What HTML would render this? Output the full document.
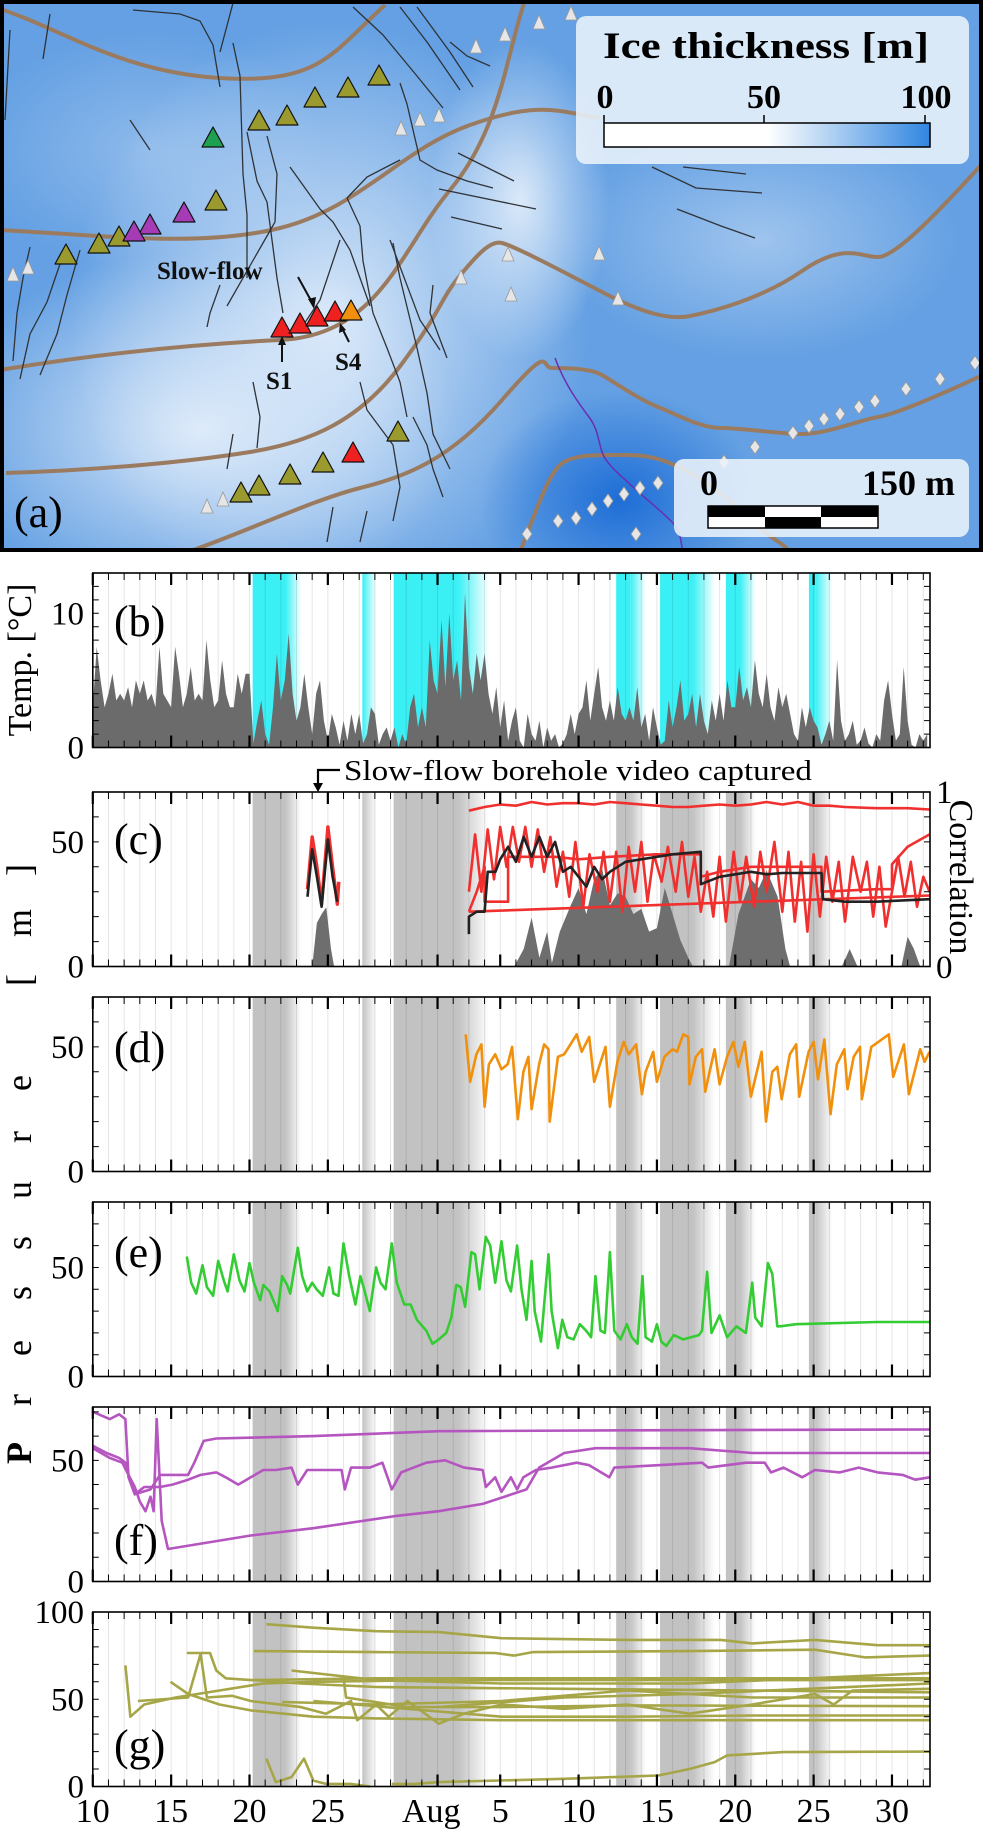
<!DOCTYPE html>
<html><head><meta charset="utf-8"><style>
html,body{margin:0;padding:0;background:#fff;}
svg{display:block;font-family:"Liberation Serif",serif;}
</style></head><body>
<svg id="fig" xmlns="http://www.w3.org/2000/svg" width="983" height="1830" viewBox="0 0 983 1830">
<defs>
<linearGradient id="gGray" x1="0" x2="1" y1="0" y2="0"><stop offset="0" stop-color="#c2c2c2"/><stop offset="1" stop-color="#c2c2c2" stop-opacity="0"/></linearGradient>
<linearGradient id="gCyan" x1="0" x2="1" y1="0" y2="0"><stop offset="0" stop-color="#3af0f4"/><stop offset="1" stop-color="#3af0f4" stop-opacity="0"/></linearGradient>
<linearGradient id="gBar" x1="0" x2="1" y1="0" y2="0"><stop offset="0" stop-color="#fff"/><stop offset="0.5" stop-color="#fff"/><stop offset="0.65" stop-color="#c4dcf5"/><stop offset="1" stop-color="#2f86e0"/></linearGradient>
<radialGradient id="rLight1" cx="0.5" cy="0.5" r="0.5"><stop offset="0" stop-color="#e6f0fb" stop-opacity="0.9"/><stop offset="1" stop-color="#e6f0fb" stop-opacity="0"/></radialGradient>
<radialGradient id="rDeep" cx="0.5" cy="0.5" r="0.5"><stop offset="0" stop-color="#1a6bd6" stop-opacity="0.95"/><stop offset="1" stop-color="#1a6bd6" stop-opacity="0"/></radialGradient>
<clipPath id="mapClip"><rect x="4" y="4" width="975" height="544"/></clipPath>
</defs>
<g id="map" clip-path="url(#mapClip)">
<rect x="0" y="0" width="983" height="552" fill="#64a0e3"/>
<ellipse cx="330" cy="320" rx="260" ry="300" fill="url(#rLight1)"/>
<ellipse cx="200" cy="430" rx="260" ry="180" fill="url(#rLight1)"/>
<ellipse cx="520" cy="200" rx="90" ry="160" fill="url(#rLight1)"/>
<ellipse cx="760" cy="240" rx="200" ry="120" fill="url(#rLight1)" opacity="0.5"/>
<ellipse cx="150" cy="150" rx="180" ry="120" fill="url(#rLight1)" opacity="0.35"/>
<ellipse cx="620" cy="500" rx="140" ry="110" fill="url(#rDeep)"/>
<g fill="none" stroke="#9b7b5f" stroke-width="4">
<path d="M0,9 C60,28 120,72 220,78 S330,55 385,5"/>
<path d="M0,230 C100,235 200,248 280,228 S400,150 470,125 S560,112 600,118"/>
<path d="M0,370 C90,355 180,345 280,340 S400,250 450,190 S505,60 525,0"/>
<path d="M6,473 C100,470 188,462 250,452 S360,420 401,365 S440,300 458,278 S490,240 502,243 S560,270 602,292 S670,320 690,316 S760,300 802,271 S860,257 878,257 S940,210 983,163"/>
<path d="M188,552 C250,530 313,500 360,488 S450,460 502,400 S540,368 552,368 S590,368 602,375 S640,400 658,407 S700,428 721,428 S780,434 803,434 S860,420 878,417 S940,395 983,375"/>
<path d="M520,552 C540,500 550,470 564,462 S600,455 627,455 S670,462 690,473 S730,500 752,521 S780,540 790,552"/>
</g>
<path d="M555,358 C565,385 580,405 589,417 S598,440 602,452 S620,475 633,487 S660,510 671,521 S680,540 683,552" fill="none" stroke="#6a2fb0" stroke-width="1.5"/>
<g id="crevasses" fill="none" stroke="#2f3338" stroke-width="1.3"></g>
<g id="markers"></g>
<text x="157" y="279" font-size="25" font-weight="bold" fill="#111">Slow-flow</text>
<path d="M298,277 L314,306" stroke="#111" stroke-width="2"/>
<path d="M314,309 L308,299 L316,297 Z" fill="#111"/>
<text x="266" y="389" font-size="25" font-weight="bold" fill="#111">S1</text>
<path d="M282,362 L282,340" stroke="#111" stroke-width="2"/>
<path d="M282,336 L278,345 L286,345 Z" fill="#111"/>
<text x="335" y="370" font-size="25" font-weight="bold" fill="#111">S4</text>
<path d="M349,342 L342,328" stroke="#111" stroke-width="2"/>
<path d="M340,323 L339,333 L346,330 Z" fill="#111"/>
<g>
<rect x="576" y="16" width="393" height="148" rx="10" fill="#eaf2fb" opacity="0.88"/>
<text x="603" y="58" font-size="37" font-weight="bold" fill="#000" textLength="326" lengthAdjust="spacingAndGlyphs">Ice thickness [m]</text>
<text x="605" y="108" font-size="34" font-weight="bold" text-anchor="middle">0</text>
<text x="764" y="108" font-size="34" font-weight="bold" text-anchor="middle">50</text>
<text x="926" y="108" font-size="34" font-weight="bold" text-anchor="middle">100</text>
<rect x="604" y="123" width="326" height="24" fill="url(#gBar)" stroke="#000" stroke-width="1.5"/>
<path d="M604,123 v-8 M764,123 v-8 M925,123 v-8" stroke="#000" stroke-width="1.5"/>
</g>
<g>
<rect x="674" y="459" width="295" height="78" rx="10" fill="#eaf2fb" opacity="0.88"/>
<text x="709" y="495" font-size="36" font-weight="bold" text-anchor="middle">0</text>
<text x="955" y="495" font-size="36" font-weight="bold" text-anchor="end">150 m</text>
<rect x="708" y="506" width="170" height="22" fill="#fff" stroke="#000" stroke-width="1.5"/>
<rect x="708" y="506" width="57" height="11" fill="#000"/>
<rect x="821" y="506" width="57" height="11" fill="#000"/>
<rect x="765" y="517" width="56" height="11" fill="#000"/>
</g>
<text x="14" y="527" font-size="44" fill="#000">(a)</text>
</g>
<rect x="2" y="2" width="979" height="548" fill="none" stroke="#000" stroke-width="4"/>
<g id="charts"></g>
</svg>
<script>
// ---------- chart data ----------
const panelNames = ['b','c','d','e','f','g'];
const panelMax = [13, 70, 70, 80, 72, 100];
const panelTickLabels = [[0,10],[0,50],[0,50],[0,50],[0,50],[0,50,100]];
const panelTickStep = [1,10,10,10,10,10];
const xTickLabels = ['10','15','20','25','Aug','5','10','15','20','25','30'];
const xTickDays = [0,5,10,15,21.6,26,31,36,41,46,51];
const majorTickDays = [0,5,10,15,22,26,31,36,41,46,51];
const shadeStart = [10.2,17.2,19.2,33.4,36.2,40.4,45.7];
const shadeSolidEnd = [12.3,17.2,23.3,34.3,38.3,41.3,46.1];
const shadeEnd = [13.3,18.1,25.3,35.3,39.7,42.3,47.2];

// (b) air temperature, values every 0.25 day from day 0 (Jul 10)
const tempStep = 0.25;
const tempVals = [3,7.5,5,3, 4,5.5,3.5,4, 3.5,4.5,3,5, 4,5,3.5,4, 3,7.5,4,3.5, 3,7.5,5.5,3, 4,6,3.5,4, 3.5,8,5,3, 3.5,6.5,4,3, 3,5.5,4,5.5,
 5.5,0.3,2,3.5, 1,0.2,3,7, 3.5,5,8.5,4, 2,3,5.5,3, 1,4,5,2, 0.5,2.5,1.5,0.2, 2,0.5,2.5,1, 2.5,0.3,1,3, 2.5,0.2,1,1.5, 0.5,1.5,0,1,
 0.2,3,4,1.5, 3,1.5,8,5, 4,9.5,4.5,10, 5,6.5,3.5,11.5, 6,4,7,5, 7,4,2.5,4.5, 1.5,3.5,0.5,2, 3,0.5,0,2.5, 1,0.5,2,0, 1.5,0.5,1,0,
 0.3,1,2.5,1, 2.5,3,5,2, 4,6,3,2, 3.5,2,4.5,2.5, 2,3,2,4.5, 1.5,2.5,0.5,3, 1.5,0.2,0.5,3.5, 1.5,3,5,2, 2.5,4,1.5,4, 2,1,3.5,2,
 4,2,5,3, 3,6,3.5,4.5, 3,6.5,4,3, 5.5,3,2,4.5, 3,4,2.5,1, 0.5,3,1.5,3, 2,1.5,0.2,1, 2,0.5,6.5,2, 0.5,1,2,0.2, 0.5,1.5,0.3,0,
 1,0.5,3.5,5, 2.5,0.5,1,6, 2,0.2,0,1, 0.5,1];

// (c) correlation (right axis, 0..1)
const corrDays = [14.0,14.3,14.6,14.9,15.2,15.4, 26.9,27.5,28,28.5,29,29.3,29.8,30.5,31,31.5,32,32.5,33,33.5,34,34.5,35,35.5,36,36.5,37,37.5,38,38.3, 40.6,41.2,42,42.5,43,43.7,44.2,44.5, 47.8,48.3,48.8, 51.6,52,52.4,52.8];
const corrVals = [0,0.25,0.3,0.34,0.1,0, 0,0.1,0.28,0.05,0.2,0.02,0.2,0.35,0.45,0.3,0.5,0.56,0.35,0.42,0.4,0.3,0.33,0.2,0.22,0.45,0.3,0.15,0.05,0, 0,0.3,0.5,0.45,0.55,0.4,0.1,0, 0,0.1,0, 0,0.17,0.1,0];
// (c) pressure series
const cEarlyRedDays = [13.7,14.0,14.3,14.6,15.0,15.3,15.6,15.7];
const cEarlyRedVals = [31,52,40,25,56,40,25,34];
const cEarlyBlackDays = [13.7,14.0,14.3,14.6,15.0,15.3,15.6];
const cEarlyBlackVals = [28,47,36,24,51,36,26];
const cTopDays = [24,25,26,27,28,29,30,31,32,33,34,35,36,37,38,39,40,41,42,43,44,45,46,47,48,50,52,53.4];
const cTopVals = [62.5,64,65,64.5,66,65,65.5,65.5,65,66,65.5,65,64.5,64,64,64.5,65,64.5,65,66,65,66,64.5,64.5,64,63.5,63.5,63];
const cBlackDays = [24,24,24.5,25,25.2,25.7,26,26.5,27,27.5,28,28.5,29,29.5,30,30.5,31,31.5,32,32.5,33,33.5,34,35,36,37,38.8,38.8,40,41,42,43,44,46.5,46.6,48,50,53.4];
const cBlackVals = [13,20,22,22,38,38,43,48,42,52,44,52,44,50,38,40,36,32,40,35,38,40,42,43,44,45,46,33,36,37,38,37,37.5,37.5,27,26,26,27];
const cStepDays = [24,24.5,25,25,26.5,26.5,29.5,31,33,36,38.8,38.8,40,42,46.5,46.5,50,51,51,52,53.4];
const cStepVals = [22,30,40,26,26,44,44,43,44,45,45,36,38,40,40,30,31,31,41,48,53];
const cRampDays = [24,53.4];
const cRampVals = [22,28.5];
const cOscDays = [24,24.4,24.8,25.2,25.6,26,26.4,26.8,27.2,27.6,28,28.4,28.8,29.2,29.6,30,30.4,30.8,31.3,31.7,32.2,32.6,33,33.4,33.8,34.2,34.6,35,35.4,35.8,36.3,36.7,37.2,37.6,38,38.4,38.8,39.2,39.6,40,40.4,40.9,41.3,41.7,42.2,42.6,43,43.5,44,44.4,44.8,45.2,45.6,46,46.4,46.8,47.2,47.6,48,48.5,49,49.4,49.8,50.2,50.6,51,51.4,51.8,52.2,52.6,53,53.4];
const cOscVals = [30,53,30,55,35,56,40,56,42,56,40,55,38,52,32,46,28,50,24,45,30,46,26,46,22,48,30,50,26,45,34,48,30,50,28,44,22,38,20,44,18,46,26,44,24,46,30,50,22,46,18,42,14,45,20,44,26,42,18,44,30,42,20,40,16,30,44,28,42,24,36,30];

// (d) orange
const dDays = [23.8,24.08,24.48,24.8,25,25.28,25.68,26.08,26.48,26.76,27.12,27.48,27.8,28,28.48,28.8,29.08,29.16,29.68,30.08,30.88,31.2,31.68,32,32.72,33,33.48,33.88,34.2,34.68,35.04,35.28,35.76,36,36.48,37,37.28,37.68,38,38.08,38.48,38.88,39.08,39.68,40,40.48,40.88,41.2,41.6,42,42.68,42.96,43.36,43.68,43.96,44.48,44.88,45.08,45.68,46,46.28,46.68,47.08,47.48,47.96,48.16,48.56,48.96,49.08,49.68,50.8,51.08,51.76,52.08,52.8,53.08,53.4];
const dVals = [55,36,47,51,26,43,47,41,43,50,21,40,46,25,43,51,49,20,46,47,55,48,54,36,50,26,44,52,47,51,31,40,48,36,46,49,48,55,54,35,46,49,32,49,35,46,52,42,52,30,48,20,40,42,29,47,51,30,48,52,37,53,23,43,49,33,46,50,29,50,55,38,51,31,49,44,48];

// (e) green
const eDays = [6.0,6.28,6.6,7.0,7.28,7.68,8.0,8.36,8.6,9.0,9.36,9.68,10.0,10.28,10.68,10.88,11.28,11.8,12.08,12.4,12.6,13.08,13.36,13.68,14.0,14.28,14.68,15.08,15.36,15.68,16.0,16.36,16.76,17.08,17.28,17.68,18.08,18.36,18.68,19.08,19.4,19.88,20.28,20.68,21.28,21.68,22.08,22.56,22.88,23.2,23.48,23.76,24.16,24.4,24.68,25.08,25.36,25.68,26.08,26.4,26.68,27.08,27.36,27.68,28.0,28.2,28.6,29.08,29.28,29.68,29.96,30.28,30.68,31.08,31.48,31.8,32.08,32.4,32.68,33.0,33.28,33.68,34.08,34.4,34.76,35.08,35.28,35.68,36.0,36.28,36.6,37.08,37.68,38.68,38.88,39.2,39.48,40.0,40.48,41.08,41.68,42.08,42.28,42.68,43.08,43.36,43.68,43.88,44.88,50.08,53.4];
const eVals = [55,43,38,51,41,37,53,44,39,56,44,39,52,43,35,42,39,30,46,42,38,59,46,39,43,40,37,50,38,37,61,46,33,46,41,30,50,43,40,61,43,33,33,26,21,15,17,20,27,42,41,32,57,56,40,64,60,43,62,44,39,60,40,26,53,30,16,56,30,13,26,18,17,24,21,18,46,21,20,57,21,17,24,18,15,46,18,16,24,16,14,19,17,19,21,48,20,28,18,23,20,43,27,23,52,47,23,23,24,25,25];

// (f) magenta
const f1Days = [0,1.08,1.68,2.08,2.28,2.68,3.68,4.28,6.08,6.48,7.08,7.88,14.08,22.08,34.08,53.4];
const f1Vals = [70,67,69,67,43,36,38,44,44,49,58,59,60,62,62.4,62.7];
const f2Days = [0,0.88,1.68,2.08,2.28,2.68,3.28,4.28,5.08,6.08,6.88,7.88,8.48,9.28,10.08,10.88,11.68,12.68,13.08,13.68,14.88,15.88,16.08,16.48,17.68,18.48,19.08,19.68,21.28,22.48,23.68,24.88,25.08,25.68,26.08,26.68,27.08,27.48,28.28,29.28,30.88,31.68,32.96,33.28,36.08,38.88,39.28,41.68,42.88,43.28,44.08,45.28,46.08,47.68,48.88,50.08,51.68,52.48,53.4];
const f2Vals = [56,53,51,49,44,36,39,39,40,42,44,45,43,40,43,46,46,47,40,46,46,46,38,47,47,49,38,45,49,50,47,46,39,43,37,43,38,43,46,47,49,48,43,47,48,49,47,49,49,45,47,43,46,45,47,45,44,42,43];
const f3Days = [0,1.08,1.88,2.28,2.68,3.0,3.36,3.68,3.88,4.08,4.4,4.8,10.08,14.08,19.28,22.08,24.88,27.68,28.48,30.08,32.08,38.08,42.08,46.08,53.4];
const f3Vals = [55,51,49,44,39,33,29,35,29,67,25,13.4,19,22,27,29,32,38,47,53,55,55,53,53,53];

// (g) olive, many sensors
const gDays = [
 [11.08,14.08,18.08,22.08,26.08,34.08,40.08,42.08,46.08,50.08,53.4],
 [10.28,18.08,25.68,26.88,28.08,38.08,46.08,49.28,53.4],
 [6.0,7.48,7.88,8.48,10.08,18.08,34.08,53.4],
 [12.68,18.08,26.08,38.08,53.4],
 [10.28,13.28,18.08,30.08,42.08,53.4],
 [4.96,6.08,8.08,10.08,14.08,18.08,26.08,53.4],
 [2.08,2.4,3.28,5.28,8.08,10.88,14.08,22.08,53.4],
 [2.88,6.08,6.88,7.28,8.88,10.08,13.28,14.88,16.48,16.88,18.08,18.88,20.08,22.08,23.68,26.08,30.08,34.08,38.08,42.08,46.08,47.28,48.48,53.4],
 [12.08,18.08,26.08,34.08,42.08,53.4],
 [16.0,16.16,20.08,26.08,34.08,53.4],
 [22.08,30.08,38.08,53.4],
 [14.08,26.08,34.08,42.08,53.4],
 [11.08,11.68,12.68,13.48,14.08,14.88,16.48,17.68],
 [19.08,20.48,22.08,30.08,36.08,38.08,39.68,40.48,44.08,53.4]
];
const gVals = [
 [93,91,89,88.5,85,84,84,82,84,81,81],
 [77.6,77,76.5,75,77,77.6,78.4,74,75],
 [76.5,76.5,66.5,62,61,62,62,62],
 [66.5,61,59,59,65],
 [61,59,57,56,55,54],
 [60,53,47,43.6,40,39,38,38],
 [69.4,40,47,51,55,59,60,61,61],
 [49,51,76,51,52,49,45.5,41.7,49,38,47,40,49,36,41.7,47,44.5,47,41.7,47,53,47,55,56],
 [48.4,47,49,55,51,51],
 [62.7,51,45.5,45.5,46.5,46],
 [45.5,51,53,59],
 [49,40,40,40.7,40.7],
 [16,2.5,5.4,16,3.4,1.5,1.5,0],
 [1.5,1.5,2.5,4.4,6.3,10,14,17.8,19.7,20]
];

// ---------- drawing ----------
const NS = 'http://www.w3.org/2000/svg';
const panelTop = [573,792,997,1202,1407,1612];
const PH = 174.5;
const XL = 92.8, XR = 930, PX = 15.67, DMAX = 53.45;
function xs(d){ return XL + d*PX; }
function ys(i,v){ const b = panelTop[i]+PH; return b - v/panelMax[i]*PH; }
function mk(tag, attrs, parent){ const e=document.createElementNS(NS,tag); for(const k in attrs) e.setAttribute(k,attrs[k]); parent.appendChild(e); return e; }
const charts = document.getElementById('charts');

function pathD(i, days, vals){ let s=''; for(let k=0;k<days.length;k++){ s += (k?'L':'M') + xs(days[k]).toFixed(1) + ',' + ys(i,vals[k]).toFixed(1); } return s; }
function drawLine(g, i, days, vals, color, w, name){
  const p = mk('path',{d:pathD(i,days,vals),fill:'none',stroke:color,'stroke-width':w,'stroke-linejoin':'round'},g);
  
  
  return p;
}

panelNames.forEach((nm,i)=>{
  const g = mk('g',{},charts);
  
  
  const t = panelTop[i], b = t+PH;
  for(let k=0;k<shadeStart.length;k++){
    const sr = mk('rect',{x:xs(shadeStart[k]),y:t,width:Math.max(0,xs(shadeSolidEnd[k])-xs(shadeStart[k])),height:PH,fill:i===0?'#3af0f4':'#c2c2c2'},g);
    
    
    mk('rect',{x:xs(shadeSolidEnd[k]),y:t,width:xs(shadeEnd[k])-xs(shadeSolidEnd[k]),height:PH,fill:i===0?'url(#gCyan)':'url(#gGray)'},g);
  }
  for(let d=1; d<DMAX; d++){
    mk('line',{x1:xs(d),x2:xs(d),y1:t,y2:b,stroke:'#000','stroke-opacity':0.1,'stroke-width':1},g);
  }
  const data = mk('g',{},g);
  
  
  if(i===0){
    let s='M'+xs(0)+','+b;
    tempVals.forEach((v,k)=>{ s+='L'+xs(k*tempStep).toFixed(1)+','+ys(0,v).toFixed(1); });
    s+='L'+xs((tempVals.length-1)*tempStep)+','+b+'Z';
    const a = mk('path',{d:s,fill:'#6b6b6b'},data);
    
    
  }
  if(i===1){
    const segs=[[0,6],[6,30],[30,38],[38,41],[41,45]];
    segs.forEach(sg=>{
      let s='';
      for(let k=sg[0];k<sg[1];k++){ s+=(k===sg[0]?'M':'L')+xs(corrDays[k]).toFixed(1)+','+(b-corrVals[k]*PH).toFixed(1); }
      s+='Z';
      const a = mk('path',{d:s,fill:'#6e6e6e'},data);
      
      
    });
    drawLine(data,1,cRampDays,cRampVals,'#f0302e',2.6,'pressure-ramp-line');
    drawLine(data,1,cStepDays,cStepVals,'#f0302e',2.6,'pressure-step-line');
    drawLine(data,1,cOscDays,cOscVals,'#f0302e',2.6,'pressure-oscillating-line');
    drawLine(data,1,cTopDays,cTopVals,'#f0302e',2.6,'pressure-top-line');
    drawLine(data,1,cEarlyRedDays,cEarlyRedVals,'#f0302e',3.4,'pressure-early-red-line');
    drawLine(data,1,cBlackDays,cBlackVals,'#222',2.6,'slow-flow-pressure-line');
    drawLine(data,1,cEarlyBlackDays,cEarlyBlackVals,'#222',2.6,'slow-flow-early-line');
  }
  if(i===2) drawLine(data,2,dDays,dVals,'#f0900c',2.6,'pressure-line-d');
  if(i===3) drawLine(data,3,eDays,eVals,'#33cc33',2.6,'pressure-line-e');
  if(i===4){
    drawLine(data,4,f1Days,f1Vals,'#b555c0',2.6,'pressure-line-f1');
    drawLine(data,4,f2Days,f2Vals,'#b555c0',2.6,'pressure-line-f2');
    drawLine(data,4,f3Days,f3Vals,'#b555c0',2.6,'pressure-line-f3');
  }
  if(i===5){
    gDays.forEach((ds,k)=>{ drawLine(data,5,ds,gVals[k],'#a6a648',2.6,'pressure-line-g' + (k+1)); });
  }
  const fr = mk('rect',{x:XL,y:t,width:XR-XL,height:PH,fill:'none',stroke:'#000','stroke-width':1.6},g);
  
  
  let ts='';
  for(let d=0; d<DMAX; d++){ ts+='M'+xs(d)+','+t+'v7M'+xs(d)+','+b+'v-7'; }
  mk('path',{d:ts,stroke:'#000','stroke-width':1},g);
  let ms='';
  majorTickDays.forEach(d=>{ ms+='M'+xs(d)+','+t+'v12M'+xs(d)+','+b+'v-12'; });
  mk('path',{d:ms,stroke:'#000','stroke-width':2.2},g);
  let ysd='';
  for(let v=panelTickStep[i]; v<panelMax[i]; v+=panelTickStep[i]){ const y=ys(i,v); ysd+='M'+XL+','+y+'h6M'+XR+','+y+'h-6'; }
  mk('path',{d:ysd,stroke:'#000','stroke-width':1},g);
  panelTickLabels[i].forEach(v=>{
    const tx = mk('text',{x:84,y:ys(i,v)+11,'font-size':33,'text-anchor':'end'},g);
    tx.textContent = v;
    
    
  });
  const pl = mk('text',{x:114,y:[636,854,1062,1267,1555,1760][i],'font-size':44},g);
  pl.textContent = '(' + nm + ')';
  
  
});

xTickLabels.forEach((lb,k)=>{
  const t = mk('text',{x:xs(xTickDays[k]),y:1822,'font-size':34,'text-anchor':'middle'},charts);
  t.textContent = lb;
  
  
});
const r1 = mk('text',{x:936,y:803,'font-size':33},charts); r1.textContent='1';


const r0 = mk('text',{x:936,y:978,'font-size':33},charts); r0.textContent='0';


const cor = mk('text',{x:0,y:0,'font-size':34,'text-anchor':'middle',transform:'translate(950,877) rotate(90)'},charts);
cor.textContent='Correlation';


const tmp = mk('text',{x:0,y:0,'font-size':34,'text-anchor':'middle',transform:'translate(31,660) rotate(-90)'},charts);
tmp.textContent='Temp. [°C]';


const presLetters = [']','m','[','e','r','u','s','s','e','r','P'];
const presY = [870,923,980,1083,1137,1190,1243,1293,1348,1400,1453];
presLetters.forEach((c,k)=>{
  const t = mk('text',{x:0,y:0,'font-size':36,'text-anchor':'middle','font-weight':k===10?'bold':'normal',transform:'translate(31,'+presY[k]+') rotate(-90)'},charts);
  t.textContent = c;
  
  
});
const ann = mk('text',{x:344,y:780,'font-size':29,textLength:468,lengthAdjust:'spacingAndGlyphs'},charts);
ann.textContent='Slow-flow borehole video captured';


const aw = mk('path',{d:'M340,770 H318 V786',fill:'none',stroke:'#000','stroke-width':2.2},charts);


mk('path',{d:'M318,792 L313,783 L323,783 Z',fill:'#000'},charts);

// ---------- map details ----------
const crevasses = [
 [[50,14],[43,59]],[[133,10],[180,14],[200,21],[213,45],[220,87]],[[233,3],[220,52]],
 [[233,43],[240,76],[243,174],[247,215],[247,278]],[[247,132],[257,181],[267,202],[277,278],[283,313]],
 [[267,136],[277,174],[275,222],[267,236],[227,306]],[[290,167],[320,209],[333,222],[350,250],[370,306]],
 [[347,198],[360,226],[363,261],[373,313],[387,348],[400,382],[407,417]],[[400,83],[407,104],[420,160],[437,170],[467,181],[493,188]],
 [[400,160],[367,177],[347,198]],[[450,42],[467,56],[490,66]],[[353,7],[383,35],[417,76],[443,108]],
 [[400,7],[427,42],[460,90]],[[417,7],[450,52],[473,87]],
 [[30,247],[23,278],[17,313],[13,361]],[[60,264],[47,302],[30,334],[20,379]],[[80,250],[67,295],[57,334],[40,375]],
 [[220,285],[210,313],[207,327]],[[393,243],[400,278],[417,348],[427,393],[433,434],[450,469]],
 [[433,285],[430,313],[447,358]],[[360,382],[367,410],[393,445],[400,487],[393,521]],
 [[413,417],[427,445],[433,469],[443,497]],[[253,382],[260,417],[257,448]],[[233,434],[227,469]],
 [[333,507],[327,542]],[[367,511],[360,542]],
 [[652,167],[696,188],[762,193]],[[677,209],[721,226],[755,238]],[[683,167],[746,174]],
 [[451,217],[502,229]],[[439,189],[536,209]],[[458,153],[514,181]],
 [[340,240],[320,300],[300,330]],[[390,240],[420,320],[440,350]],[[10,30],[5,120]],[[130,120],[150,150]]
];
const cg = document.getElementById('crevasses');
crevasses.forEach(pts=>{
  const p = mk('polyline',{points:pts.map(q=>q.join(',')).join(' ')},cg);
  
  
});
const mg = document.getElementById('markers');
const whiteMarks = [[940,379],[906,389],[875,401],[859,407],[840,414],[824,419],[809,426],[793,433],[755,447],[724,462],[658,483],[640,488],[624,494],[608,501],[592,509],[576,518],[558,521],[527,534],[636,534],[975,363]];
whiteMarks.forEach(q=>{
  const p = mk('path',{d:'M'+q[0]+','+(q[1]-7)+'l5,7l-5,7l-5,-7z',fill:'#e6e6e6',stroke:'#999','stroke-width':0.8},mg);
  
  
});
const whiteTris = [[539,23],[571,14],[505,35],[476,47],[401,129],[420,120],[439,116],[508,255],[599,254],[461,278],[511,295],[618,299],[13,275],[28,268],[207,507],[223,500]];
whiteTris.forEach(q=>{
  const p = mk('path',{d:'M'+q[0]+','+(q[1]-8)+'l6,14h-12z',fill:'#e6e6e6',stroke:'#999','stroke-width':0.8},mg);
  
  
});
const siteX = [379,348,315,287,259,216,119,99,66,398,323,290,259,241,213,184,150,134,282,300,317,335,353,351];
const siteY = [75,87,97,115,120,200,236,243,254,431,462,474,485,492,137,212,224,231,327,323,316,311,452,310];
const siteColor = ['#9a9a2e','#9a9a2e','#9a9a2e','#9a9a2e','#9a9a2e','#9a9a2e','#9a9a2e','#9a9a2e','#9a9a2e','#9a9a2e','#9a9a2e','#9a9a2e','#9a9a2e','#9a9a2e','#1fa050','#a53cb5','#a53cb5','#a53cb5','#ee2020','#ee2020','#ee2020','#ee2020','#ee2020','#f0900c'];
siteX.forEach((x,k)=>{
  const y = siteY[k];
  const p = mk('path',{d:'M'+x+','+(y-10)+'L'+(x+11)+','+(y+10)+'H'+(x-11)+'Z',fill:siteColor[k],stroke:'#111','stroke-width':1.2,'stroke-linejoin':'round'},mg);
  
  
});
</script>
</body></html>
